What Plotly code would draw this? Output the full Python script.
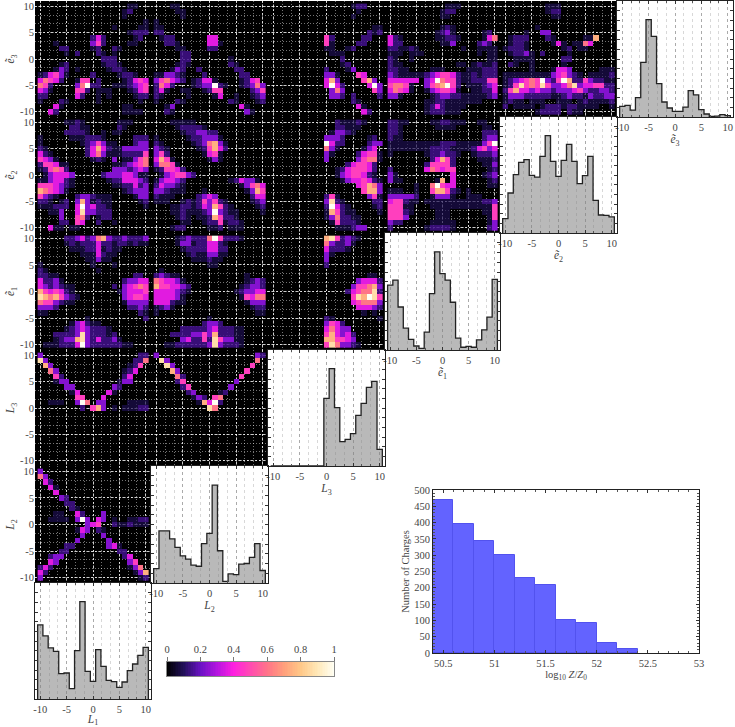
import plotly.graph_objects as go

# 2D bins, digits are colour levels (see LEVELS), rows run from +10 down to -10
E3_L1 = ["0000000 0000000 0001100", "0000000 0000000 0012000", "0000000 0000000 0010000",
         "0000000 0000000 0000001", "0000000 0000000 1000011", "0000000 0000000 0001222",
         "0000000 0002420 0000120", "0001000 0003520 0001100", "0000220 0001200 2100000",
         "0000010 2000210 1000000", "0000000 0000022 2000000", "0000120 0000012 2100000",
         "0001320 1000001 2210000", "1245310 0002000 0122100", "4654200 1550200 0012454",
         "6520000 3692200 1112345", "4310000 5520111 0001245", "2200000 4200101 0000122",
         "1000210 0000100 0000010", "0004100 0000000 0011000", "0042000 0000000 0011110"]
E3_L2 = ["0001100 0000000 0000000", "0000110 0000000 0000000", "0000010 0000000 0000000",
         "1000000 0000000 0000000", "1100000 0000000 0000000", "2200000 0000000 0000000",
         "0122000 0004400 0000000", "0022100 0004410 0000000", "0000110 0002200 0000000",
         "0000022 0000000 0000000", "0000022 0000000 1000000", "0000121 0000000 2100000",
         "0001320 0200000 0220000", "1133210 0020000 0022000", "3564320 1244100 0012450",
         "2642000 1233921 0012363", "2410011 0012550 0000235", "2100001 0000140 0100123",
         "1000210 0000000 2100012", "0013000 0000000 0041000", "0021000 0000000 0003100"]
E3_L3 = ["0000000 0000000 0122000", "0000000 0000000 0010000", "0000000 0000000 0100000",
         "0000000 0000000 0000000", "0000000 0000000 0000011", "0000000 0000000 0000212",
         "0000000 0005200 0002200", "0000000 0005100 0022000", "0000000 0001100 1200000",
         "0000000 0000111 0000000", "0000000 0000002 0000000", "0000000 0000001 2000000",
         "0000000 0002000 1300000", "0000000 0003310 0054000", "0000000 0004730 0005730",
         "0000000 0004942 0000493", "0000000 0000363 0000053", "0000000 0000332 0200002",
         "0000000 0000000 0210000", "0000000 0000000 0041000", "0000000 0000000 0004200"]
E3_E1 = ["0000000 0000111 0000000", "0000000 0001220 0000000", "0000000 0001100 0000000",
         "0000000 0000000 0000000", "0000000 0001210 0000000", "0000000 0012310 0000120",
         "4210000 0011221 0000146", "4220000 0001130 0002320", "2211210 0000000 1001111",
         "1110111 0000000 0001011", "2100100 0000000 0000011", "2110000 0000001 1012112",
         "2211000 0111000 0111222", "3211111 2345542 1121222", "4444440 3496552 1122255",
         "5665100 3567952 0111234", "4654100 1345541 0011224", "3310000 0123322 1111123",
         "0000000 1122111 1111000", "0000000 1242111 1000000", "0000000 1222111 0000000"]
E3_E2 = ["0000000 0111000 0000000", "0000000 0122000 0000000", "0000000 0011000 0000000",
         "0000000 0000000 0000000", "0000001 0000000 0000000", "0000100 3300000 0000000",
         "0122200 0210000 0117000", "0122100 0014101 1640000", "1222100 0000120 1100000",
         "0122310 2000010 0000000", "0011110 0000220 0000000", "0210010 0000100 0000000",
         "0000010 0014430 0000111", "1111111 1134532 1011112", "1234565 9325972 2532211",
         "1258565 8533468 3445522", "2574434 3323334 5322332", "1333222 2211232 2132233",
         "1211011 1001110 1211112", "2011110 1222122 1111001", "0000001 2222021 1000000"]
E2_L1 = ["0000011 2100000 0111000", "0000002 2110000 0210000", "0000022 2210010 1100000",
         "1000001 1122210 0000222", "1000000 0123531 1000233", "2100000 0024742 1133333",
         "4210000 0024631 1122225", "5431000 0001210 3011356", "2554110 0000000 1123456",
         "1256520 0000000 3332343", "0134443 0000023 3344311", "1134421 0000001 2244432",
         "5554321 0000000 1122423", "7654310 0000000 0012333", "5321000 2332111 0000133",
         "2210120 3731211 0000012", "1112220 4934221 0000001", "0011300 4833222 0000000",
         "0000300 5620122 0000000", "0000220 5400200 1000000", "0041101 1000000 0000000"]
E2_L2 = ["0001111 1000000 0000000", "0000122 2210000 0000000", "0000012 2332200 0000000",
         "1000001 2233310 0000000", "2100000 1236731 0000000", "3210000 0125742 0000000",
         "3520000 0014510 0000000", "4751000 0001310 0000000", "3665100 0000000 0000000",
         "1255420 0000000 0000000", "0134553 2000000 0000000", "1344320 0000000 1243310",
         "2433210 0000000 0013564", "3321110 0010000 0001375", "2111000 0234300 0000244",
         "1110012 1253521 0000123", "0001122 1243752 1000012", "0001121 1123932 1100001",
         "0000121 0112752 2100000", "0000011 0012251 2210000", "0001220 0001120 1110000"]
E2_L3 = ["0000000 0000021 1121000", "0000000 0000022 1110000", "0000000 0000133 2100000",
         "0000000 0003332 0000120", "0000000 0009422 0000233", "0000000 0006310 0001340",
         "0000000 0003100 0024551", "0000000 0003000 0035661", "0000000 0000000 2455420",
         "0000000 0000012 4555420", "0000000 0000013 4554210", "0000000 0000001 3445421",
         "0000000 0000000 0045763", "0000000 0000000 0005773", "0000000 0002510 0000351",
         "0000000 0003821 0000022", "0000000 0002942 1000012", "0000000 0001752 1100001",
         "0000000 0001362 2110000", "0000000 0000152 2210000", "0000000 0000011 1233000"]
E2_E1 = ["2211000 0112211 1001100", "2210000 0011110 0000110", "2210000 0000000 0000222",
         "2110000 0000000 0000233", "1111111 1112221 1111359", "1111111 1222211 1124534",
         "1000000 1223221 0012223", "0000000 0247520 0001112", "0000000 2555520 0000113",
         "2000000 4654550 0000012", "3100000 0000040 0000123", "3110000 0017040 0000012",
         "0000010 0695440 0000011", "1110010 0577521 0100000", "3333320 0133310 0111000",
         "4552110 1111111 1111223", "5551100 0111111 1111115", "5552100 0011100 0000115",
         "5553000 0011100 0000015", "3220000 0111110 0000013", "2000000 1222210 0000023"]
E1_L1 = ["0000022 3423673 2232223", "0000012 1222422 1221211", "0000001 1122412 1100000",
         "0000000 0111421 1000000", "0000000 0011311 0000000", "1000000 0001000 1000000",
         "2100000 0000100 0000000", "2211000 0000000 0000220", "4223100 0000000 0023344",
         "4323211 0000000 2034565", "7545421 0000000 0134445", "8767532 1000000 0034554",
         "6553211 0000000 0013333", "3332000 0000000 0002232", "1100000 0000000 0000021",
         "0000000 0010000 0000002", "0000001 3421100 0000000", "0000012 3432221 0000000",
         "0002222 3832221 2000000", "0001233 7832422 3100000", "0111222 4932222 2211000"]
E1_L2 = ["0000123 2226952 2210000", "0000133 1224421 0000000", "0000012 2224422 0000000",
         "0000001 2113311 0000000", "0000000 1112110 0000000", "0000000 0001100 0000000",
         "0100000 0000000 0000000", "2321100 0000000 0001000", "6544310 0000000 0001232",
         "7554432 0000000 0012332", "4444321 0000000 0123344", "4444310 0000000 0015466",
         "4442110 0000000 0001333", "1231000 0000000 0000122", "1000000 0000000 0000011",
         "0000000 0001000 0000000", "0000000 0023320 0000000", "0000022 2223422 2110000",
         "0002222 3353722 2110000", "0000034 2252853 3110000", "0011222 2223832 2210000"]
E1_L3 = ["0000000 0007852 3210000", "0000000 0006322 3100000", "0000000 0004222 1000000",
         "0000000 0003100 0000000", "0000000 0003000 0000000", "0000000 0002000 0000000",
         "0000000 0000000 0000000", "0000000 0000000 0000110", "0000000 0000000 0034442",
         "0000000 0000000 0355673", "0000000 0000000 2456682", "0000000 0000000 0587985",
         "0000000 0000000 0456663", "0000000 0000000 0044432", "0000000 0000000 0001010",
         "0000000 0002100 0000001", "0000000 0003542 0000000", "0000000 0004643 3000000",
         "0000000 0005743 4200000", "0000000 0007755 4300000", "0000000 0005863 3210000"]
EMPTY_ROW = "0000000 0000000 0000000"
L3_L1 = ["3000000 0000000 0000022", "8300000 0000000 0000226", "0730000 0000000 0001250",
         "0063000 0000000 0012400", "0005200 0000000 0024000", "0001330 0000000 0133000",
         "0000033 0000000 3200000", "0000001 4000004 1000000", "0000000 5500040 0000000",
         "0011100 3960330 0001111", "0000000 0205730 1011122"] + [EMPTY_ROW] * 10
L3_L2 = ["3000000 0000000 0000032", "0830000 0000000 0000060", "0083000 0000000 0000500",
         "0007300 0000000 0005000", "0000620 0000000 0050000", "0000250 0000000 0300000",
         "0000025 0000000 3000000", "0000002 3000012 0000000", "0000000 1320560 0000000",
         "0000000 0174920 0000000", "0000000 0008600 0000000"] + [EMPTY_ROW] * 10
L2_L1 = ["3000000 0000000 0000000", "6300000 0000000 0000000", "0420000 0000000 0000000",
         "0041000 0000000 0000000", "0004000 0000000 0000000", "0000320 0000000 0000000",
         "0000022 0000000 0000000", "0000002 1000000 0000000", "0001100 4200030 0000000",
         "0011110 3930430 1001122", "0000000 0034500 2112111", "0000000 1430210 0000000",
         "0000000 0300030 0000000", "0000000 3000003 0000000", "0000022 0000003 4100000",
         "0000220 0000000 0220000", "0023300 0000000 0024000", "0043000 0000000 0003500",
         "2420000 0000000 0001360", "4200000 0000000 0000137", "3000000 0000000 0000012"]
LEVELS = [0, 0.05, 0.12, 0.24, 0.36, 0.47, 0.6, 0.74, 0.87, 1]

BINS = list(range(-10, 11))
HIST_L1 = [7.66, 6.52, 5.28, 4.93, 2.62, 2.69, 1.07, 5.0, 10.07, 2.86, 1.83, 5.1, 3.38, 1.93, 1.79, 1.21, 1.76, 2.93, 3.62, 4.52, 5.34]
HIST_L2 = [1.48, 5.34, 5.34, 4.52, 3.66, 2.79, 2.45, 1.83, 1.72, 4.03, 5.1, 10.03, 3.31, 0.17, 0.93, 0.86, 1.93, 2.0, 2.62, 4.03, 1.28]
HIST_L3 = [0] * 10 + [7.0, 10.07, 6.03, 2.52, 2.76, 3.34, 5.24, 6.48, 8.14, 8.76, 1.72]
HIST_E1 = [6.66, 7.17, 4.41, 2.24, 1.1, 0.41, 0.17, 1.83, 5.79, 10.07, 7.83, 7.17, 4.9, 1.21, 0.28, 0.38, 0.28, 1.03, 2.07, 3.38, 7.24]
HIST_E2 = [1.48, 4.14, 6.03, 7.31, 7.59, 5.97, 5.79, 7.93, 10.07, 7.41, 5.86, 7.52, 9.17, 7.41, 5.1, 5.93, 7.93, 3.38, 1.86, 1.83, 1.66]
HIST_E3 = [1.1, 1.2, 0.72, 2.0, 5.66, 10.07, 8.34, 3.45, 1.55, 0.93, 0.59, 0.59, 1.03, 2.72, 2.28, 0.76, 0.31, 0.07, 0.1, 0.24, 0.14]

CHARGE_BINS = [50.5, 50.7, 50.9, 51.1, 51.3, 51.5, 51.7, 51.9, 52.1, 52.3]
CHARGE_COUNTS = [470, 396, 344, 300, 231, 209, 100, 91, 31, 12]

AXIS_TICKS = [-10, -5, 0, 5, 10]
AXIS_LABELS = ["-10", "-5", "0", "5", "10"]
COLORBAR_TICKS = [0, 0.2, 0.4, 0.6, 0.8, 1]
COLORBAR_LABELS = ["0", "0.2", "0.4", "0.6", "0.8", "1"]
CHARGE_XTICKS = [50.5, 51, 51.5, 52, 52.5, 53]
CHARGE_XLABELS = ["50.5", "51", "51.5", "52", "52.5", "53"]
NAMES = ["<i>L</i><sub>1</sub>", "<i>L</i><sub>2</sub>", "<i>L</i><sub>3</sub>",
         "<i>ẽ</i><sub>1</sub>", "<i>ẽ</i><sub>2</sub>", "<i>ẽ</i><sub>3</sub>"]

W, H = 735, 727
COL_X = [35, 151, 268, 385, 500, 617, 733]
ROW_Y = [1, 117, 233, 350, 466, 583, 699]
FONT = "Liberation Serif"
TEXT = "#444444"
TICK_FONT = dict(family=FONT, size=10.5, color=TEXT)
TITLE_FONT = dict(family=FONT, size=11.5, color=TEXT)

heat_rows = {
    (0, 0): E3_L1, (0, 1): E3_L2, (0, 2): E3_L3, (0, 3): E3_E1, (0, 4): E3_E2,
    (1, 0): E2_L1, (1, 1): E2_L2, (1, 2): E2_L3, (1, 3): E2_E1,
    (2, 0): E1_L1, (2, 1): E1_L2, (2, 2): E1_L3,
    (3, 0): L3_L1, (3, 1): L3_L2,
    (4, 0): L2_L1,
}
hists = {(0, 5): HIST_E3, (1, 4): HIST_E2, (2, 3): HIST_E1, (3, 2): HIST_L3, (4, 1): HIST_L2, (5, 0): HIST_L1}

key_scale = [[0, "#000000"], [0.1, "#22105a"], [0.2, "#6a12c4"], [0.3, "#b414e0"], [0.4, "#ff20e0"],
             [0.5, "#ff4cb0"], [0.6, "#ff7488"], [0.7, "#ffa07c"], [0.8, "#ffc888"], [0.9, "#ffe8b8"], [1, "#fffff4"]]
# same colours, the weak bins let the grid through
bin_scale = [[0, "rgba(0,0,0,0)"], [0.05, "rgba(28,14,80,0.7)"], [0.12, "rgba(66,16,140,0.85)"],
             [0.24, "#8412d0"], [0.3, "#b414e0"]] + key_scale[4:]


def xdom(a, b):
    return [a / W, b / W]


def ydom(top, bottom):
    return [1 - bottom / H, 1 - top / H]


fig = go.Figure()
layout = {}
shapes = []
n = 0
for r in range(6):
    for c in range(6 - r):
        n += 1
        xa = "x" if n == 1 else f"x{n}"
        ya = "y" if n == 1 else f"y{n}"
        base = dict(range=[-11, 11], tickfont=TICK_FONT, zeroline=False, automargin=False)
        xaxis = dict(base, domain=xdom(COL_X[c], COL_X[c + 1]), anchor=ya, tickvals=AXIS_TICKS, ticktext=AXIS_LABELS)
        yaxis = dict(base, domain=ydom(ROW_Y[r], ROW_Y[r + 1]), anchor=xa, tickvals=AXIS_TICKS, ticktext=AXIS_LABELS)
        if (r, c) in heat_rows:
            z = [[LEVELS[int(ch)] for ch in row.replace(" ", "")] for row in heat_rows[(r, c)]]
            # paper refs put the black panel under the grid
            shapes.append(dict(type="rect", xref="paper", yref="paper", x0=COL_X[c] / W, x1=COL_X[c + 1] / W,
                               y0=1 - ROW_Y[r + 1] / H, y1=1 - ROW_Y[r] / H,
                               fillcolor="black", line_width=0, layer="below"))
            fig.add_trace(go.Heatmap(x=BINS, y=BINS[::-1], z=z, coloraxis="coloraxis", xaxis=xa, yaxis=ya,
                                     hoverinfo="skip"))
            grid = dict(showgrid=True, gridcolor="rgba(255,255,255,0.8)", griddash="2px,2px", gridwidth=1,
                        minor=dict(dtick=5 / 3, tick0=-10, showgrid=True, gridcolor="rgba(255,255,255,0.45)",
                                   griddash="1px,2px", gridwidth=0.7, ticks=""))
            xaxis.update(grid, showticklabels=False, ticks="")
            yaxis.update(grid, showticklabels=c == 0, ticks="")
            if c == 0:
                yaxis["title"] = dict(text=NAMES[5 - r], standoff=2, font=TITLE_FONT)
        else:
            vals = hists[(r, c)]
            hx, hy = [-10.5], [0]
            for b, v in zip(BINS, vals):
                hx.append(b - 0.5)
                hy.append(v)
            hx += [10.5, 10.5]
            hy += [vals[-1], 0]
            fig.add_trace(go.Scatter(x=hx, y=hy, xaxis=xa, yaxis=ya, mode="lines", fill="tozeroy",
                                     fillcolor="rgba(128,128,128,0.55)", hoverinfo="skip", showlegend=False,
                                     line=dict(color="#222222", width=1.3, shape="hv")))
            xaxis.update(showgrid=True, gridcolor="#aaaaaa", griddash="dot", gridwidth=1, ticks="inside", ticklen=3,
                         tickcolor="#333333", showline=True, linecolor="#222222", linewidth=1, mirror="allticks",
                         minor=dict(dtick=5 / 3, tick0=-10, ticks="inside", ticklen=2, tickcolor="#555555",
                                    showgrid=True, gridcolor="#d8d8d8", griddash="dot", gridwidth=1),
                         title=dict(text=NAMES[c], standoff=3, font=TITLE_FONT))
            yaxis.update(range=[0, 12], tickvals=list(range(13)), showticklabels=False, ticks="inside", ticklen=3,
                         showgrid=False, tickcolor="#333333", showline=True, linecolor="#222222", linewidth=1,
                         mirror="allticks")
        layout["xaxis" + (str(n) if n > 1 else "")] = xaxis
        layout["yaxis" + (str(n) if n > 1 else "")] = yaxis

# charge histogram
n += 1
xa, ya = f"x{n}", f"y{n}"
fig.add_trace(go.Bar(x=CHARGE_BINS, y=CHARGE_COUNTS, width=0.2, xaxis=xa, yaxis=ya, hoverinfo="skip", showlegend=False,
                     marker=dict(color="#6363ff", line=dict(color="#5252ee", width=1))))
layout["xaxis" + str(n)] = dict(domain=xdom(433, 699), anchor=ya, range=[50.4, 53], tickvals=CHARGE_XTICKS,
                                ticktext=CHARGE_XLABELS, ticks="inside", ticklen=3, tickcolor="#333333", showgrid=False,
                                tickfont=TICK_FONT, showline=True, linecolor="#222222", linewidth=1, mirror="allticks",
                                zeroline=False, automargin=False,
                                minor=dict(dtick=0.1, ticks="inside", ticklen=2, tickcolor="#555555"),
                                title=dict(text="log<sub>10</sub> <i>Z</i>/<i>Z</i><sub>0</sub>", standoff=0, font=TICK_FONT))
layout["yaxis" + str(n)] = dict(domain=ydom(490, 653), anchor=xa, range=[0, 500], dtick=50, ticks="inside", ticklen=3,
                                tickcolor="#333333", showgrid=False, tickfont=TICK_FONT, showline=True,
                                linecolor="#222222", linewidth=1, mirror="allticks", zeroline=False, automargin=False,
                                minor=dict(dtick=10, ticks="inside", ticklen=2, tickcolor="#555555"),
                                title=dict(text="Number of Charges", standoff=2, font=TICK_FONT))

# colour key drawn as its own little heatmap, a plotly colorbar pushes the margins
n += 1
xa, ya = f"x{n}", f"y{n}"
key_steps = [i / 100 for i in range(101)]
fig.add_trace(go.Heatmap(x=key_steps, y=[0], z=[key_steps], coloraxis="coloraxis2", xaxis=xa, yaxis=ya, hoverinfo="skip"))
layout["xaxis" + str(n)] = dict(domain=xdom(167, 334), anchor=ya, range=[0, 1], side="top", tickvals=COLORBAR_TICKS,
                                ticktext=COLORBAR_LABELS, ticks="outside", ticklen=4, tickcolor="#777777", showgrid=False,
                                tickfont=TICK_FONT, showline=True, linecolor="#888888", mirror=True, zeroline=False,
                                automargin=False)
layout["yaxis" + str(n)] = dict(domain=ydom(662, 676), anchor=xa, range=[-0.5, 0.5], showticklabels=False, ticks="",
                                showgrid=False, showline=True, linecolor="#888888", mirror=True, zeroline=False,
                                automargin=False)

fig.update_layout(
    width=W, height=H, margin=dict(l=0, r=0, t=0, b=0), paper_bgcolor="white", plot_bgcolor="rgba(0,0,0,0)",
    showlegend=False, bargap=0, shapes=shapes,
    coloraxis=dict(cmin=0, cmax=1, colorscale=bin_scale, showscale=False),
    coloraxis2=dict(cmin=0, cmax=1, colorscale=key_scale, showscale=False),
    **layout,
)

fig.write_html("out.html", config={"displayModeBar": False}, post_script="document.body.style.margin='0';")
